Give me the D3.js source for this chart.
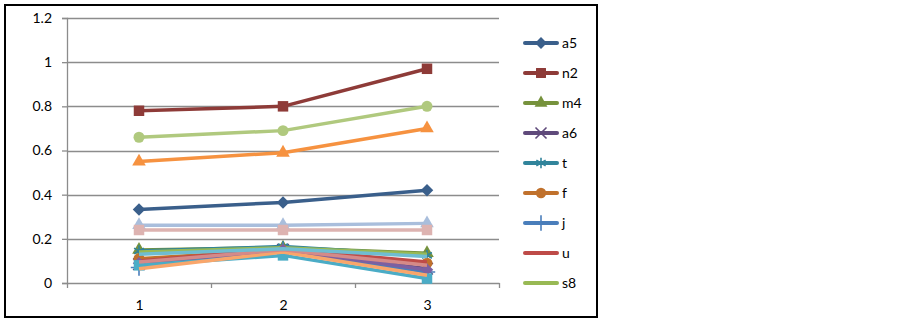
<!DOCTYPE html>
<html>
<head>
<meta charset="utf-8">
<script src="https://cdn.jsdelivr.net/npm/d3@7"></script>
<style>
  html, body { margin: 0; padding: 0; background: #fff; }
  svg { display: block; font-family: Lato, "Noto Sans", sans-serif; }
</style>
</head>
<body>
<div id="chart"></div>
<script>
// categories and ticks
const categories = [1, 2, 3];
const yTicks = [0, 0.2, 0.4, 0.6, 0.8, 1, 1.2];

// series values
const a5 = [0.333, 0.365, 0.42];
const n2 = [0.78, 0.80, 0.97];
const m4 = [0.15, 0.16, 0.135];
const a6 = [0.085, 0.15, 0.065];
const t = [0.145, 0.165, 0.125];
const f = [0.11, 0.15, 0.09];
const j = [0.07, 0.145, 0.05];
const u = [0.10, 0.155, 0.095];
const s8 = [0.14, 0.16, 0.13];
const s10 = [0.09, 0.15, 0.06];
const s11 = [0.08, 0.125, 0.02];
const s12 = [0.55, 0.59, 0.70];
const s13 = [0.66, 0.69, 0.80];
const s14 = [0.262, 0.262, 0.27];
const s15 = [0.24, 0.24, 0.24];
const s16 = [0.065, 0.14, 0.035];
const s17 = [0.095, 0.15, 0.08];
const s18 = [0.13, 0.155, 0.12];

const legendNames = ['a5', 'n2', 'm4', 'a6', 't', 'f', 'j', 'u', 's8'];

// style table
const series = [
  { name: 'a5', values: a5, color: '#3A5F8B', marker: 'diamond' },
  { name: 'n2', values: n2, color: '#8E3B38', marker: 'square' },
  { name: 'm4', values: m4, color: '#76923C', marker: 'triangle' },
  { name: 'a6', values: a6, color: '#5F4A7B', marker: 'x' },
  { name: 't', values: t, color: '#31849B', marker: 'asterisk' },
  { name: 'f', values: f, color: '#C0712C', marker: 'circle' },
  { name: 'j', values: j, color: '#4A7EBB', marker: 'plus' },
  { name: 'u', values: u, color: '#BE4B48', marker: 'none' },
  { name: 's8', values: s8, color: '#98B954', marker: 'none' },
  { name: 's10', values: s10, color: '#7D60A0', marker: 'diamond' },
  { name: 's11', values: s11, color: '#4BACC6', marker: 'square' },
  { name: 's12', values: s12, color: '#F69240', marker: 'triangle' },
  { name: 's13', values: s13, color: '#B0C97E', marker: 'circle' },
  { name: 's14', values: s14, color: '#A9BEDC', marker: 'triangle' },
  { name: 's15', values: s15, color: '#DDB3B1', marker: 'square' },
  { name: 's16', values: s16, color: '#F9A66B', marker: 'none' },
  { name: 's17', values: s17, color: '#D58A88', marker: 'none' },
  { name: 's18', values: s18, color: '#6FBDD1', marker: 'none' }
];

const width = 903;
const height = 322;
const margin = { top: 18, left: 67, right: 404, bottom: 39 };
const innerW = width - margin.left - margin.right;
const innerH = height - margin.top - margin.bottom;

const svg = d3.select('#chart').append('svg')
  .attr('width', width)
  .attr('height', height);

// outer frame
svg.append('rect')
  .attr('x', 5).attr('y', 5)
  .attr('width', 592).attr('height', 312)
  .attr('fill', 'none')
  .attr('stroke', '#000')
  .attr('stroke-width', 2);

const g = svg.append('g').attr('transform', `translate(${margin.left},${margin.top})`);

const xScale = d3.scalePoint().domain(categories).range([0, innerW]).padding(0.5);
const xEdge = d3.scaleLinear().domain([0.5, 3.5]).range([0, innerW]);
const yScale = d3.scaleLinear().domain([0, 1.2]).range([innerH, 0]);

// grid
g.append('g')
  .selectAll('line')
  .data(yTicks.filter(d => d > 0))
  .join('line')
  .attr('x1', 0).attr('x2', innerW)
  .attr('y1', d => Math.round(yScale(d)) + 0.5)
  .attr('y2', d => Math.round(yScale(d)) + 0.5)
  .attr('stroke', '#8c8c8c')
  .attr('stroke-width', 1.3);

// y axis
const yAxis = g.append('g')
  .call(d3.axisLeft(yScale).tickValues(yTicks).tickSize(5).tickPadding(10).tickFormat(d3.format('~g')));
yAxis.selectAll('.tick text').attr('font-size', 14).attr('fill', '#000').attr('font-family', 'Lato, sans-serif');

// x axis tick marks at category boundaries
const xTicks = g.append('g')
  .attr('transform', `translate(0,${innerH})`)
  .call(d3.axisBottom(xEdge).tickValues([0.5, 1.5, 2.5, 3.5]).tickSize(5).tickSizeOuter(0).tickFormat(''));
// x axis labels
const xLabels = g.append('g')
  .attr('transform', `translate(0,${innerH})`)
  .call(d3.axisBottom(xScale).tickSize(0).tickPadding(17));
xLabels.select('.domain').remove();
xLabels.selectAll('.tick text').attr('font-size', 14).attr('fill', '#000').attr('font-family', 'Lato, sans-serif');

svg.selectAll('.domain, .tick line').attr('stroke', '#8c8c8c').attr('stroke-width', 1.3);

const line = d3.line()
  .x((d, i) => xScale(categories[i]))
  .y(d => yScale(d));

function drawMarker(sel, type, color, scale) {
  const k = scale || 1;
  if (type === 'diamond') {
    sel.append('path').attr('d', d3.symbol(d3.symbolSquare, 78 * k)()).attr('transform', 'rotate(45)').attr('fill', color);
  } else if (type === 'square') {
    sel.append('path').attr('d', d3.symbol(d3.symbolSquare, 110 * k)()).attr('fill', color);
  } else if (type === 'triangle') {
    sel.append('path').attr('d', d3.symbol(d3.symbolTriangle, 80 * k)()).attr('fill', color);
  } else if (type === 'circle') {
    sel.append('path').attr('d', d3.symbol(d3.symbolCircle, 95 * k)()).attr('fill', color);
  } else if (type === 'x') {
    sel.append('path').attr('d', d3.symbol(d3.symbolTimes, 90 * k)()).attr('fill', 'none').attr('stroke', color).attr('stroke-width', 1.6);
  } else if (type === 'asterisk') {
    sel.append('path').attr('d', d3.symbol(d3.symbolAsterisk, 90 * k)()).attr('fill', 'none').attr('stroke', color).attr('stroke-width', 1.6);
  } else if (type === 'plus') {
    sel.append('path').attr('d', d3.symbol(d3.symbolPlus, 90 * k)()).attr('fill', 'none').attr('stroke', color).attr('stroke-width', 1.6);
  }
}

const plot = g.append('g');
series.forEach(s => {
  const sg = plot.append('g');
  sg.append('path')
    .attr('d', line(s.values))
    .attr('fill', 'none')
    .attr('stroke', s.color)
    .attr('stroke-width', 3.5)
    .attr('stroke-linejoin', 'round');
  s.values.forEach((v, i) => {
    const m = sg.append('g').attr('transform', `translate(${xScale(categories[i])},${yScale(v)})`);
    drawMarker(m, s.marker, s.color);
  });
});

// legend
const legend = svg.append('g').attr('transform', 'translate(525,43)');
const items = legend.selectAll('g')
  .data(series.filter(s => legendNames.includes(s.name)))
  .join('g')
  .attr('transform', (d, i) => `translate(0,${i * 30})`);
items.append('line')
  .attr('x1', 0).attr('x2', 32)
  .attr('stroke', d => d.color)
  .attr('stroke-width', 4)
  .attr('stroke-linecap', 'round');
items.each(function (d) {
  const m = d3.select(this).append('g').attr('transform', 'translate(16,0)');
  drawMarker(m, d.marker, d.color, 0.9);
});
items.append('text')
  .attr('x', 37)
  .attr('dy', '0.35em')
  .attr('font-size', 14)
  .attr('fill', '#000')
  .text(d => d.name);
</script>
</body>
</html>
